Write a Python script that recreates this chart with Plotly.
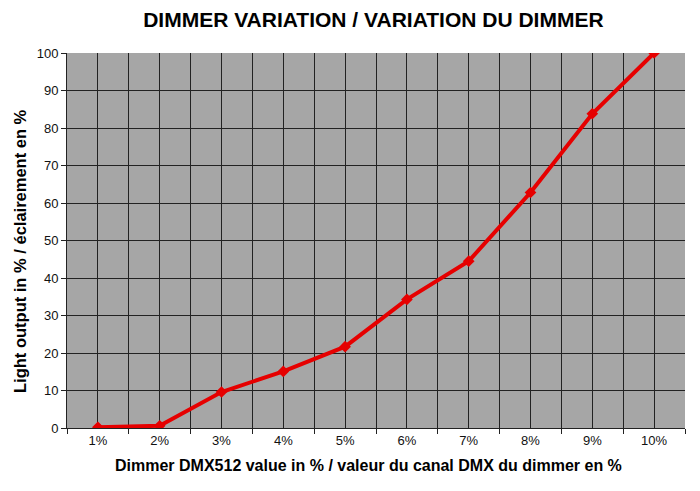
import plotly.graph_objects as go

categories = ["1%", "2%", "3%", "4%", "5%", "6%", "7%", "8%", "9%", "10%"]
light_output = [0.2, 0.6, 9.6, 15.1, 21.7, 34.3, 44.5, 62.8, 83.8, 100]
y_ticks = list(range(0, 101, 10))

xpos = list(range(1, len(categories) + 1))
boundaries = [i + 0.5 for i in range(0, len(categories) + 1)]

fig = go.Figure()
fig.add_trace(go.Scatter(
    x=xpos, y=light_output, mode="lines+markers",
    line=dict(color="#E60000", width=4),
    marker=dict(symbol="diamond", size=9, color="#E60000"),
    showlegend=False,
))

fig.update_layout(
    width=692, height=483,
    margin=dict(l=59, r=15, t=45, b=63),
    paper_bgcolor="white",
    plot_bgcolor="#A6A6A6",
    font=dict(family="Liberation Sans, Arial", color="black"),
    title=dict(text="<b>DIMMER VARIATION / VARIATION DU DIMMER</b>",
               x=0.528, xanchor="center", y=1 - 12 / 483, yanchor="middle",
               font=dict(size=21, color="black")),
)

fig.update_xaxes(
    range=[0.5, len(categories) + 0.5],
    tickmode="array", tickvals=xpos, ticktext=categories,
    ticks="", showgrid=True, gridcolor="#222222", gridwidth=1,
    tickfont=dict(size=13, color="#111111"),
    minor=dict(tickmode="array", tickvals=boundaries, showgrid=True,
               gridcolor="#222222", gridwidth=1, ticks="outside",
               ticklen=5, tickcolor="#222222"),
    showline=True, linecolor="#222222", linewidth=1,
    zeroline=False,
)

fig.update_yaxes(
    range=[0, 100], tickmode="array", tickvals=y_ticks,
    ticks="outside", ticklen=5, tickcolor="#222222",
    showgrid=True, gridcolor="#222222", gridwidth=1,
    tickfont=dict(size=13, color="#111111"),
    showline=True, linecolor="#222222", linewidth=1,
    zeroline=False,
)

fig.add_annotation(
    text="<b>Dimmer DMX512 value in % / valeur du canal DMX du dimmer en %</b>",
    xref="paper", yref="paper", x=0.488, y=0, xanchor="center", yanchor="middle",
    yshift=-37, showarrow=False, font=dict(size=16, color="black"),
)
fig.add_annotation(
    text="<b>Light output in % / éclairement en %</b>",
    xref="paper", yref="paper", x=0, y=0.472, xanchor="center", yanchor="middle",
    xshift=-47, textangle=-90, showarrow=False, font=dict(size=16.5, color="black"),
)

fig.write_html("out.html")
